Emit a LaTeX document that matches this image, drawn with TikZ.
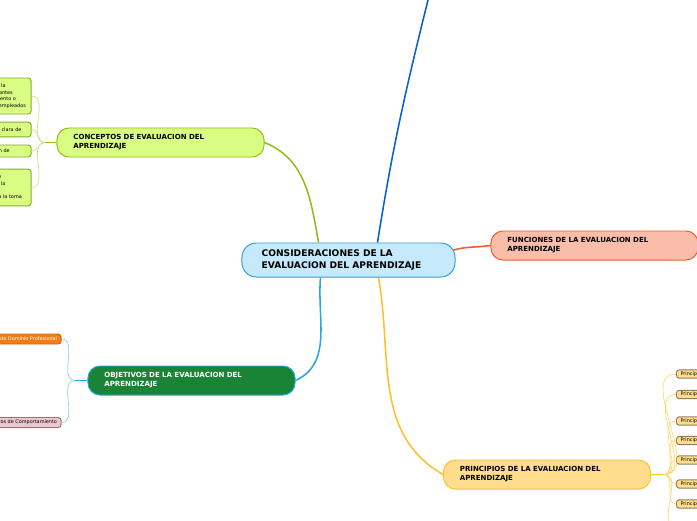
\documentclass[tikz,border=0pt]{standalone}
\usepackage{fontspec}
\setmainfont{DejaVu Sans}
\usetikzlibrary{positioning, calc}
\definecolor{cskyfill}{HTML}{C6EAFB}
\definecolor{cskyline}{HTML}{3A9BD9}
\definecolor{climefill}{HTML}{D9FD82}
\definecolor{climeline}{HTML}{8DBE1E}
\definecolor{climeleaf}{HTML}{86AE2C}
\definecolor{climetwig}{HTML}{C8E58A}
\definecolor{csalmonfill}{HTML}{F9BDAA}
\definecolor{csalmonline}{HTML}{EE5A2C}
\definecolor{cforest}{HTML}{1A8436}
\definecolor{ccyan}{HTML}{2AA7E1}
\definecolor{ccyantwig}{HTML}{86D2F0}
\definecolor{cgoldfill}{HTML}{FFDD8C}
\definecolor{cgoldline}{HTML}{FDC02F}
\definecolor{cgoldtwig}{HTML}{FFD970}
\definecolor{croyal}{HTML}{0A5FD0}
\definecolor{corange}{HTML}{F07E14}
\definecolor{corangeline}{HTML}{D2690A}
\definecolor{crosefill}{HTML}{EBC8CD}
\definecolor{croseline}{HTML}{A0707A}
\definecolor{cbrown}{HTML}{8E7E5E}
\tikzset{
  every picture/.style={x=0.025cm, y=-0.025cm, line width=0.7pt},
  central/.style={draw=cskyline, fill=cskyfill, rounded corners=0.36cm, minimum width=5.325cm,
    minimum height=0.85cm, inner xsep=0.49cm, text width=4.345cm, align=left,
    font=\fontsize{6.5}{7.9}\selectfont\bfseries},
  topic/.style={draw=#1, rounded corners=0.3cm, minimum width=5.175cm, minimum height=0.725cm,
    inner xsep=0.41cm, text width=4.355cm, align=left, font=\fontsize{5}{6.4}\selectfont\bfseries},
  leaf/.style={draw=#1, rounded corners=0.07cm, inner xsep=0.1cm, inner ysep=0.1cm, align=left,
    font=\fontsize{3.5}{4.75}\selectfont},
  limeleaf/.style={leaf=climeleaf, fill=climefill, anchor=east, text width=2.3575cm},
  link/.style={draw=#1, line width=1.1pt},
  twig/.style={draw=#1, line width=0.5pt},
}

\begin{document}
\begin{tikzpicture}
\clip (0,0) rectangle (697,520);
% main topics
\node[central] (central) at (348.5,260) {CONSIDERACIONES DE LA\\EVALUACION DEL APRENDIZAJE};
\node[topic=climeline, fill=climefill] (concepts) at (160.5,142.5) {CONCEPTOS DE EVALUACION DEL\\APRENDIZAJE};
\node[topic=csalmonline, fill=csalmonfill] (funciones) at (594.5,245.5) {FUNCIONES DE LA EVALUACION DEL\\APRENDIZAJE};
\node[topic=ccyan, fill=cforest, text=white] (objetivos) at (191.5,380.5) {OBJETIVOS DE LA EVALUACION DEL\\APRENDIZAJE};
\node[topic=cgoldline, fill=cgoldfill] (principios) at (547,474.5) {PRINCIPIOS DE LA EVALUACION DEL\\APRENDIZAJE};
\coordinate (topend) at (431,-12);

% concepts
\node[limeleaf, minimum height=0.9cm] (c1) at (31.5,96)
  {Proceso que permite medir la\\situación real de los estudiantes\\con respecto a su conocimiento o\\habilidades y los métodos empleados};
\node[limeleaf, minimum height=0.37cm] (c2) at (31.5,129.5)
  {Medio de tener una mirada clara de};
\node[limeleaf, minimum height=0.3cm] (c3) at (31.5,151)
  {Sistema formal de medición de};
\node[limeleaf, minimum height=0.92cm] (c4) at (31.5,187.5)
  {Juicio de valor que se emite\\tomando la información de la\\actividad escolar realizada\\y que sirve como base para la toma};
\coordinate (cj) at (45,142.5);

% objetivos
\node[leaf=corangeline, fill=corange, text=white, anchor=east, inner ysep=0.05cm, minimum height=0.25cm] (o1) at (61.5,339)
  {Objetivos de Dominio Profesional};
\node[leaf=croseline, fill=crosefill, anchor=east, inner ysep=0.05cm, minimum height=0.25cm] (o2) at (61.5,422.5)
  {Objetivos de Comportamiento};
\coordinate (oj) at (75,380.5);

% principios
\foreach \name/\y/\txt in {p1/374/Principio de integralidad, p2/394.5/Principio de continuidad,
    p3/421/Principio de participación, p4/440.5/Principio de objetividad, p5/460/Principio de validez,
    p6/484/Principio de confiabilidad, p7/504/Principio de flexibilidad, p8/526/Principio de transparencia}
  \node[leaf=cbrown, fill=cgoldfill, anchor=west, inner ysep=0.03cm, minimum height=0.21cm] (\name) at (676,\y) {\txt};
\coordinate (pj) at (664,474.5);

% connectors
\draw[link=croyal] ($(central.north)+(29,0)$) to[out=81,in=-104] (topend);
\draw[link=climeline] ($(central.north)+(-30,0)$) to[out=100,in=-22] (concepts.east);
\draw[link=csalmonline] ($(central.east)+(-2,-10)$) to[out=15,in=188] (funciones.west);
\draw[link=ccyan] ($(central.south)+(-28,0)$) to[out=-95,in=25] (objetivos.east);
\draw[link=cgoldline] ($(central.south)+(30,0)$) to[out=-80,in=150] (principios.west);

\draw[link=climeline] (concepts.west) -- (cj);
\foreach \n in {c1,c2,c3,c4}
  \draw[twig=climetwig] (cj) to[out=180,in=0] (\n.east);
\draw[link=ccyan] (objetivos.west) -- (oj);
\foreach \n in {o1,o2}
  \draw[twig=ccyantwig] (oj) to[out=180,in=0] (\n.east);
\draw[link=cgoldline] (principios.east) -- (pj);
\foreach \n in {p1,p2,p3,p4,p5,p6,p7,p8}
  \draw[twig=cgoldtwig] (pj) to[out=0,in=180] (\n.west);
\end{tikzpicture}
\end{document}
